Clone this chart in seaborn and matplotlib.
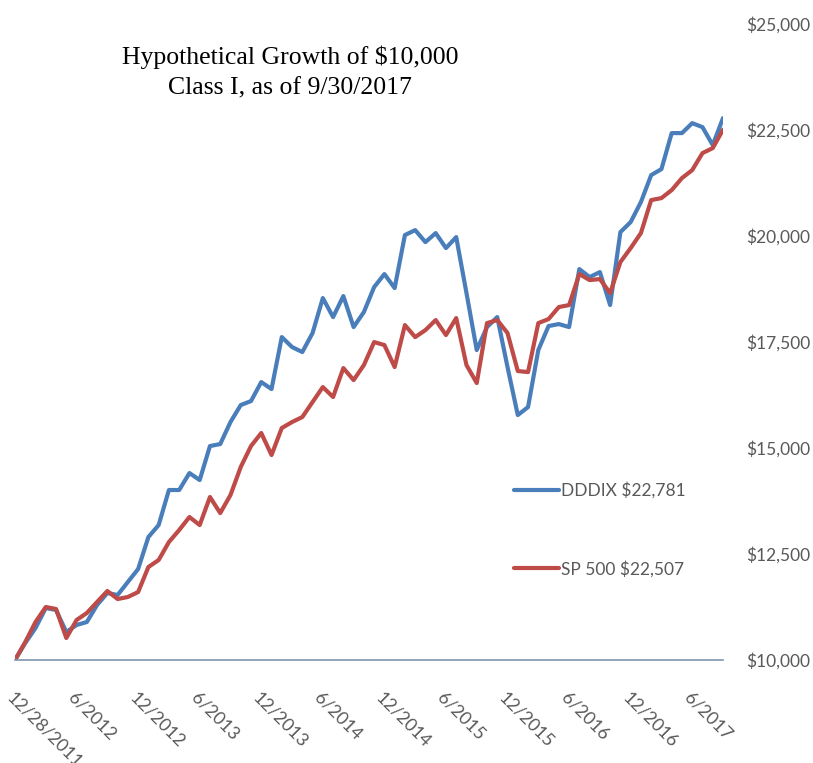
import matplotlib
matplotlib.use('Agg')
import matplotlib.pyplot as plt
import seaborn as sns
import pandas as pd

# Monthly values, 12/28/2011 through 9/30/2017
dddix = [10000, 10400, 10755, 11226, 11179, 10660, 10825, 10896, 11297, 11580,
         11533, 11840, 12146, 12900, 13183, 14009, 14009, 14409, 14244, 15046,
         15093, 15612, 16013, 16107, 16555, 16390, 17616, 17381, 17263, 17711,
         18536, 18088, 18583, 17852, 18206, 18795, 19102, 18772, 20022, 20139,
         19856, 20069, 19715, 19974, 18654, 17310, 17852, 18088, 16909, 15777,
         15966, 17310, 17876, 17923, 17852, 19220, 19031, 19149, 18371, 20092,
         20328, 20800, 21436, 21578, 22427, 22427, 22662, 22568, 22144, 22781]
sp500 = [10000, 10424, 10896, 11250, 11203, 10519, 10943, 11108, 11368, 11627,
         11438, 11486, 11603, 12193, 12358, 12782, 13065, 13372, 13183, 13844,
         13466, 13891, 14551, 15046, 15353, 14834, 15471, 15612, 15730, 16084,
         16437, 16202, 16885, 16602, 16956, 17498, 17428, 16909, 17899, 17616,
         17781, 18017, 17664, 18064, 16956, 16532, 17946, 18017, 17711, 16815,
         16791, 17946, 18041, 18324, 18371, 19102, 18960, 18984, 18654, 19385,
         19715, 20069, 20847, 20894, 21083, 21366, 21554, 21955, 22073, 22507]
series_names = ['DDDIX $22,781', 'SP 500 $22,507']
tick_labels = ['12/28/2011', '6/2012', '12/2012', '6/2013', '12/2013', '6/2014',
               '12/2014', '6/2015', '12/2015', '6/2016', '12/2016', '6/2017']
y_ticks = [10000, 12500, 15000, 17500, 20000, 22500, 25000]

df = pd.DataFrame({
    'month': list(range(len(dddix))) * 2,
    'value': dddix + sp500,
    'series': [series_names[0]] * len(dddix) + [series_names[1]] * len(sp500),
})

sns.set_style('white')
plt.rcParams['font.family'] = ['Lato', 'DejaVu Sans']

fig = plt.figure(figsize=(8.13, 7.63), dpi=100)
ax = fig.add_axes([15 / 813, 103 / 763, 708 / 813, 636 / 763])

sns.lineplot(data=df, x='month', y='value', hue='series',
             palette=['#4a7ebb', '#be4b48'], linewidth=3, ax=ax)

ax.set_xlim(0, len(dddix) - 1)
ax.set_ylim(10000, 25000)
ax.set_xlabel('')
ax.set_ylabel('')

for s in ['top', 'left', 'right']:
    ax.spines[s].set_visible(False)
ax.spines['bottom'].set_color('#7f96ad')
ax.spines['bottom'].set_linewidth(1.2)

ax.set_xticks(list(range(0, 6 * len(tick_labels), 6)))
ax.set_xticklabels(tick_labels, rotation=-45, ha='left', va='top',
                   rotation_mode='anchor')
ax.tick_params(axis='x', direction='in', length=6, width=1, color='#7f96ad',
               pad=21, labelsize=12.8, labelcolor='#595959')

ax.yaxis.tick_right()
ax.set_yticks(y_ticks)
ax.set_yticklabels([f'${v:,}' for v in y_ticks])
ax.tick_params(axis='y', length=0, pad=17, labelsize=12.5, labelcolor='#595959')

leg = ax.legend(loc='upper left', bbox_to_anchor=(514 / 813, 1 - 482 / 763),
                bbox_transform=fig.transFigure, frameon=False,
                handlelength=2.6, handletextpad=0.1, labelspacing=3.55,
                borderpad=0, borderaxespad=0, fontsize=12.5)
for t in leg.get_texts():
    t.set_color('#595959')

fig.text(290 / 813, 1 - 57 / 763, 'Hypothetical Growth of $10,000',
         ha='center', va='center', fontsize=18.5, family='Liberation Serif',
         color='black')
fig.text(290 / 813, 1 - 88 / 763, 'Class I, as of 9/30/2017',
         ha='center', va='center', fontsize=18.5, family='Liberation Serif',
         color='black')

fig.savefig('out.png', dpi=100)
